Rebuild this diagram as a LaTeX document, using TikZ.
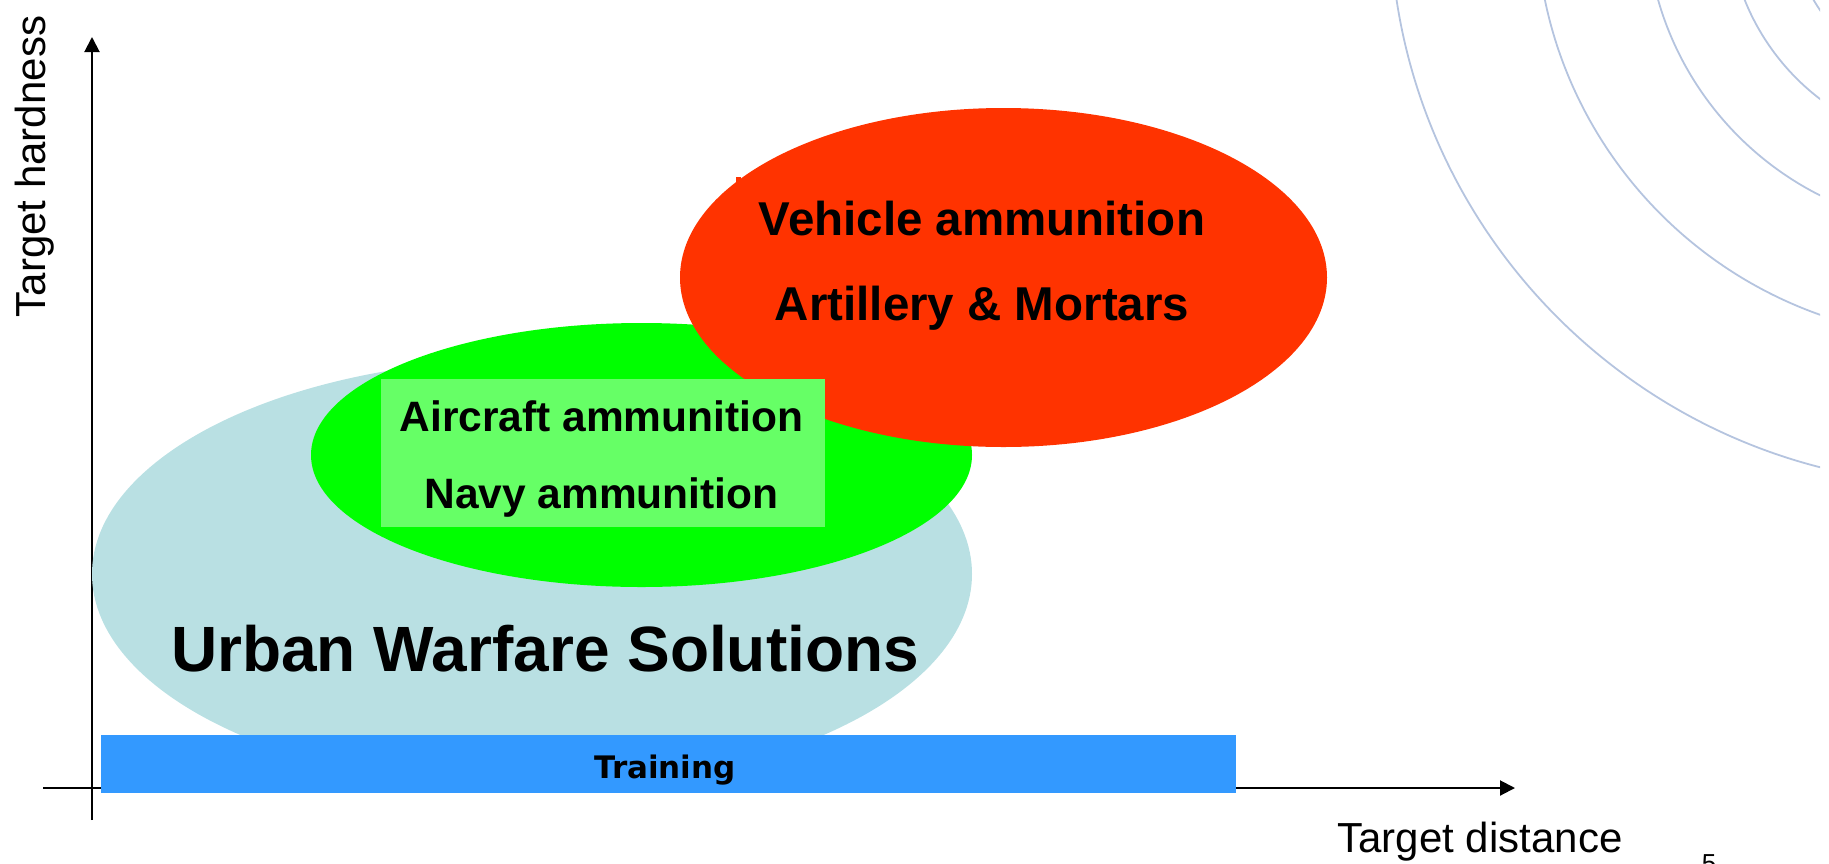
\documentclass[tikz,border=0pt]{standalone}
\usepackage{fontspec}
\setmainfont{Liberation Sans}
\newfontfamily\dejavu{DejaVu Sans}
\usetikzlibrary{arrows.meta,shapes.geometric}
\definecolor{urbanblue}{HTML}{B9E0E3}
\definecolor{greenc}{HTML}{00FF00}
\definecolor{redc}{HTML}{FF3300}
\definecolor{boxgreen}{HTML}{66FF66}
\definecolor{trainblue}{HTML}{3399FF}
\definecolor{arcc}{HTML}{B5C4DF}
\tikzset{
  blob/.style={ellipse, inner sep=0pt, draw=none},
  axisline/.style={line width=2pt, black},
  tiparrow/.style={-{Triangle[length=15pt,width=15pt]}},
  bigtxt/.style={font=\bfseries\fontsize{47.5}{57}\selectfont, inner sep=0pt},
  midtxt/.style={font=\bfseries\fontsize{42.5}{51}\selectfont, inner sep=0pt},
  hugetxt/.style={font=\bfseries\fontsize{64}{77}\selectfont, inner sep=0pt},
  axtxt/.style={font=\fontsize{42}{50}\selectfont, inner sep=0pt},
  arcline/.style={draw=arcc, line width=1.8pt}
}
\begin{document}
\begin{tikzpicture}[x=1pt,y=-1pt]
\useasboundingbox (0,0) rectangle (1829,863);
% background arcs
\begin{scope}
  \clip (0,0) rectangle (1820,863);
  \coordinate (arcctr) at (1962,-87);
  \foreach \r in {572,426,316,234,172}{
    \draw[arcline] (arcctr) circle[radius=\r pt];
  }
\end{scope}
% axes
\coordinate (xo) at (43,788);
\coordinate (xe) at (1515,788);
\coordinate (yo) at (92,820);
\coordinate (ye) at (92,37);
\draw[axisline, tiparrow] (xo) -- (xe);
\draw[axisline, tiparrow] (yo) -- (ye);
% ellipses
\node[blob, fill=urbanblue, minimum width=880pt, minimum height=430pt] (urban) at (532,574) {};
\node[blob, fill=greenc, minimum width=661pt, minimum height=264pt] (green) at (641.5,455) {};
\node[blob, fill=redc, minimum width=647pt, minimum height=339pt] (red) at (1003.5,277.5) {};
\fill[redc] (736,177) rectangle (741,182);
% light green box
\node[fill=boxgreen, inner sep=0pt, minimum width=444pt, minimum height=148pt, anchor=north west] (box) at (381,379) {};
% training bar
\node[fill=trainblue, inner sep=0pt, minimum width=1135pt, minimum height=58pt, anchor=north west] (bar) at (101,735) {};
% texts
\node[bigtxt, anchor=base] (veh) at (982,235) {Vehicle ammunition};
\node[bigtxt, anchor=base] (art) at (982,320) {Artillery \& Mortars};
\node[midtxt, anchor=base] (air) at (601.5,431) {Aircraft ammunition};
\node[midtxt, anchor=base] (navy) at (601.5,508) {Navy ammunition};
\node[hugetxt, anchor=base] (urbtxt) at (545,671) {Urban Warfare Solutions};
\node[font=\dejavu\bfseries\fontsize{31}{37}\selectfont, inner sep=0pt, anchor=base] (train) at (665,778) {Training};
\node[axtxt, anchor=base] (xlab) at (1480,852) {Target distance};
\node[axtxt, anchor=base, rotate=90] (ylab) at (45,166.5) {Target hardness};
\node[font=\fontsize{26}{31}\selectfont, inner sep=0pt, anchor=base] (pnum) at (1709,872) {5};
\end{tikzpicture}
\end{document}
